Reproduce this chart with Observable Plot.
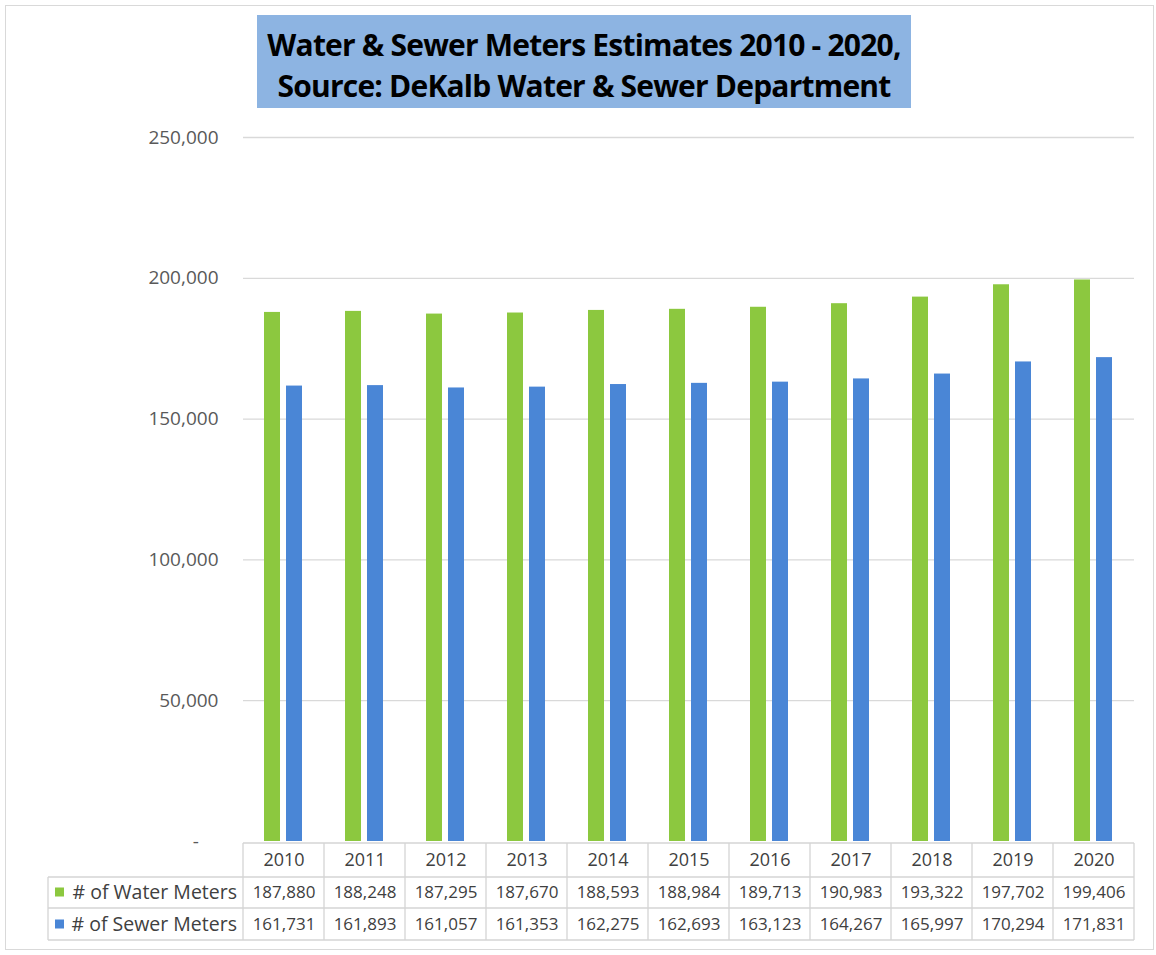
<!DOCTYPE html>
<html><head><meta charset="utf-8">
<script src="https://cdn.jsdelivr.net/npm/d3@7"></script>
<script src="https://cdn.jsdelivr.net/npm/@observablehq/plot@0.6"></script>
<style>
body{margin:0;background:#fff;}
#wrap{position:relative;width:1156px;height:955px;overflow:hidden;background:#fff;}
#border{position:absolute;left:5px;top:5px;width:1149px;height:945px;border:1px solid #d9d9d9;box-sizing:border-box;}
#chart{position:absolute;left:0;top:0;}
#title{position:absolute;left:257px;top:15px;width:654px;height:93px;padding-top:6px;box-sizing:border-box;background:#8db4e2;font-family:"Open Sans",sans-serif;font-weight:bold;font-size:30px;letter-spacing:-0.8px;line-height:41px;text-align:center;color:#000;white-space:nowrap;display:flex;flex-direction:column;justify-content:center;}
</style></head>
<body><div id="wrap"><div id="border"></div><div id="chart"></div>
<div id="title"><div>Water &amp; Sewer Meters Estimates 2010 - 2020,</div><div>Source: DeKalb Water &amp; Sewer Department</div></div></div>
<script>
const years = [2010, 2011, 2012, 2013, 2014, 2015, 2016, 2017, 2018, 2019, 2020];
const waterMeters = [187880, 188248, 187295, 187670, 188593, 188984, 189713, 190983, 193322, 197702, 199406];
const sewerMeters = [161731, 161893, 161057, 161353, 162275, 162693, 163123, 164267, 165997, 170294, 171831];
const seriesNames = ["# of Water Meters", "# of Sewer Meters"];
const seriesColors = ["#8cc83f", "#4a86d6"];
const yTicks = [0, 50000, 100000, 150000, 200000, 250000];

const data = years.flatMap((yr, i) => [
  {year: yr, series: seriesNames[0], value: waterMeters[i]},
  {year: yr, series: seriesNames[1], value: sewerMeters[i]}
]);
const fmt = d3.format(",");
const tickFmt = d => d === 0 ? "-\u00a0\u00a0\u00a0\u00a0" : fmt(d);

const textColor = "#404040";
const font = "'Open Sans', sans-serif";
const rowDy = [19, 51, 83];

const chart = Plot.plot({
  width: 1156, height: 955,
  marginTop: 137, marginLeft: 240, marginRight: 19, marginBottom: 114,
  style: {fontFamily: font, fontSize: "18px", color: "#595959", background: "transparent", overflow: "visible"},
  fx: {domain: years, padding: 0, axis: null},
  x: {domain: seriesNames, paddingInner: 0.26, paddingOuter: 0.9, axis: null},
  y: {domain: [0, 250000], axis: null},
  color: {domain: seriesNames, range: seriesColors},
  marks: [
    Plot.gridY(yTicks.filter(d => d > 0), {stroke: "#d9d9d9", strokeOpacity: 1, strokeWidth: 1.3}),
    Plot.axisY(yTicks, {tickSize: 0, tickPadding: 25, label: null, tickFormat: tickFmt, fontSize: 19, fill: "#595959"}),
    Plot.barY(data, {fx: "year", x: "series", y: "value", fill: "series"}),
    Plot.text(years, {fx: d => d, text: d => String(d), frameAnchor: "bottom", lineAnchor: "middle", dy: rowDy[0], fill: textColor, fontSize: 18}),
    Plot.text(years.map((yr, i) => ({yr, v: waterMeters[i]})), {fx: "yr", text: d => fmt(d.v), frameAnchor: "bottom", lineAnchor: "middle", dy: rowDy[1], fill: textColor, fontSize: 17}),
    Plot.text(years.map((yr, i) => ({yr, v: sewerMeters[i]})), {fx: "yr", text: d => fmt(d.v), frameAnchor: "bottom", lineAnchor: "middle", dy: rowDy[2], fill: textColor, fontSize: 17})
  ]
});
document.getElementById("chart").appendChild(chart);

// table grid, series labels and legend squares placed with the plot's scales
const svg = d3.select(chart);
const fx = chart.scale("fx");
const yS = chart.scale("y");
const y0 = yS.apply(0);
const bw = fx.bandwidth;
let off = 0;
if (fx.apply(years[0]) < 100) off = 240;
const left0 = fx.apply(years[0]) + off;
const xR = fx.apply(years[years.length - 1]) + off + bw;
const labelLeft = 48;
const hTop = y0 + 2, h1 = y0 + 36, h2 = y0 + 67, h3 = y0 + 99;
const g = svg.append("g").attr("stroke", "#d4d4d4").attr("stroke-width", 1.3);
g.append("line").attr("x1", left0).attr("x2", xR).attr("y1", hTop).attr("y2", hTop);
for (const yy of [h1, h2, h3]) g.append("line").attr("x1", labelLeft).attr("x2", xR).attr("y1", yy).attr("y2", yy);
g.append("line").attr("x1", labelLeft).attr("x2", labelLeft).attr("y1", h1).attr("y2", h3);
years.forEach(yr => {
  const x = fx.apply(yr) + off;
  g.append("line").attr("x1", x).attr("x2", x).attr("y1", hTop).attr("y2", h3);
});
g.append("line").attr("x1", xR).attr("x2", xR).attr("y1", hTop).attr("y2", h3);

seriesNames.forEach((s, i) => {
  svg.append("text").attr("x", left0 - 6).attr("y", y0 + rowDy[i + 1]).attr("dy", "0.35em")
    .attr("text-anchor", "end").attr("fill", textColor).attr("font-size", 19.5).attr("font-family", font).text(s);
  svg.append("rect").attr("x", 55).attr("y", y0 + rowDy[i + 1] - 4.5).attr("width", 9).attr("height", 9).attr("fill", seriesColors[i]);
});
</script>
</body></html>
